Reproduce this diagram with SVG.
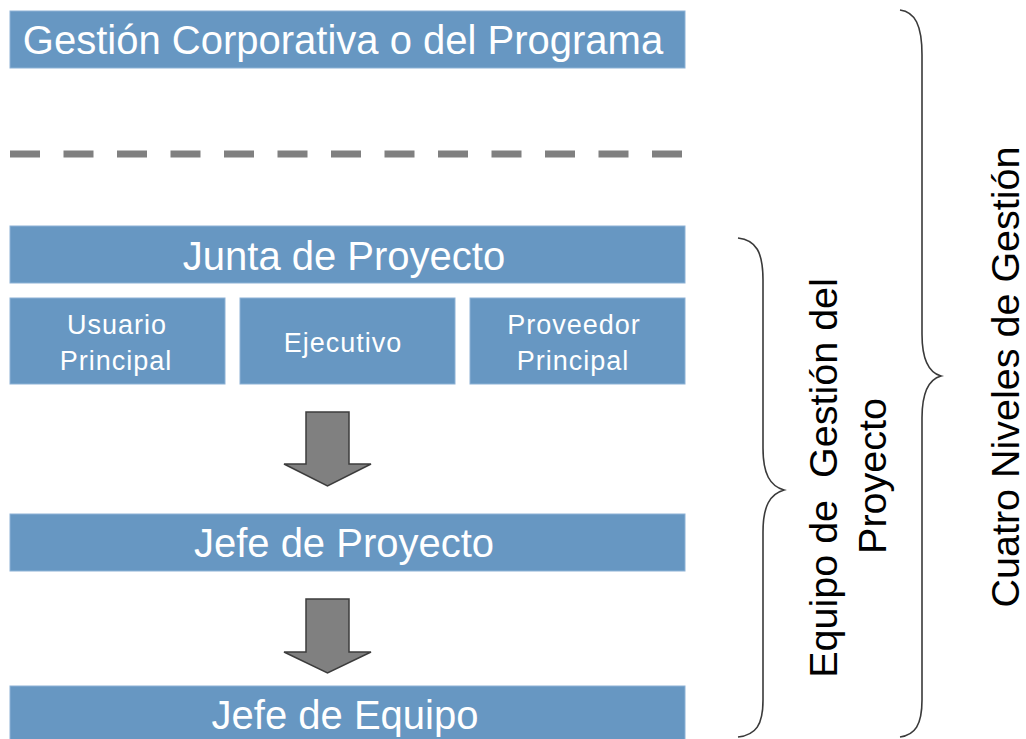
<svg xmlns="http://www.w3.org/2000/svg" width="1026" height="739" viewBox="0 0 1026 739">
<style>
.box{fill:#6797c2;stroke:#8db2d6;stroke-width:1}
.big{font-family:"Liberation Sans",Arial,sans-serif;font-size:40px;fill:#ffffff;text-anchor:middle}
.small{font-family:"Liberation Sans",Arial,sans-serif;font-size:27px;fill:#ffffff;text-anchor:middle;letter-spacing:1px}
.side{font-family:"Liberation Sans",Arial,sans-serif;font-size:39.5px;fill:#000000;text-anchor:middle;white-space:pre}
.arrow{fill:#808080;stroke:#3c3c3c;stroke-width:1.5;stroke-linejoin:miter}
.brace{fill:none;stroke:#3a3a3a;stroke-width:1.6}
</style>
<rect width="1026" height="739" fill="#ffffff"/>
<g id="corporativa">
<rect class="box" x="10" y="11" width="675" height="57"/>
<text class="big" x="343" y="54">Gestión Corporativa o del Programa</text>
</g>
<g id="separador">
<line x1="10" y1="154" x2="686" y2="154" stroke="#808080" stroke-width="7" stroke-dasharray="30 23.5"/>
</g>
<g id="junta">
<rect class="box" x="10" y="226" width="675" height="57"/>
<text class="big" x="344" y="270">Junta de Proyecto</text>
</g>
<g id="usuario">
<rect class="box" x="10" y="298" width="215" height="86"/>
<text class="small" x="117" y="334">Usuario</text>
<text class="small" x="116" y="370">Principal</text>
</g>
<g id="ejecutivo">
<rect class="box" x="240" y="298" width="215" height="86"/>
<text class="small" x="343" y="352">Ejecutivo</text>
</g>
<g id="proveedor">
<rect class="box" x="470" y="298" width="215" height="86"/>
<text class="small" x="574" y="334">Proveedor</text>
<text class="small" x="573" y="370">Principal</text>
</g>
<g id="jefe-proyecto">
<rect class="box" x="10" y="514" width="675" height="57"/>
<text class="big" x="344" y="557">Jefe de Proyecto</text>
</g>
<g id="jefe-equipo">
<rect class="box" x="10" y="686" width="675" height="60"/>
<text class="big" x="345" y="729">Jefe de Equipo</text>
</g>
<g id="connectors">
<path class="arrow" d="M306,412 L349,412 L349,464 L371,464 L327.5,486 L284,464 L306,464 Z"/>
<path class="arrow" d="M306,599 L349,599 L349,652 L371,652 L327.5,673 L284,652 L306,652 Z"/>
</g>
<g id="equipo-gestion">
<path class="brace" d="M738,238 C756,240 763,252 763,280 L763,448 C763,474 770,486 784,490 C770,494 763,506 763,532 L763,700 C763,725 756,735 738,737"/>
<text class="side" xml:space="preserve" transform="translate(837,478) rotate(-90)">Equipo de  Gestión del</text>
<text class="side" transform="translate(886,476) rotate(-90)">Proyecto</text>
</g>
<g id="cuatro-niveles">
<path class="brace" d="M900,10 C915,12 922,25 922,55 L922,334 C922,362 930,373 941,376 C930,379 922,390 922,418 L922,700 C922,725 915,735 900,737"/>
<text class="side" transform="translate(1019,377) rotate(-90)">Cuatro Niveles de Gestión</text>
</g>
</svg>
